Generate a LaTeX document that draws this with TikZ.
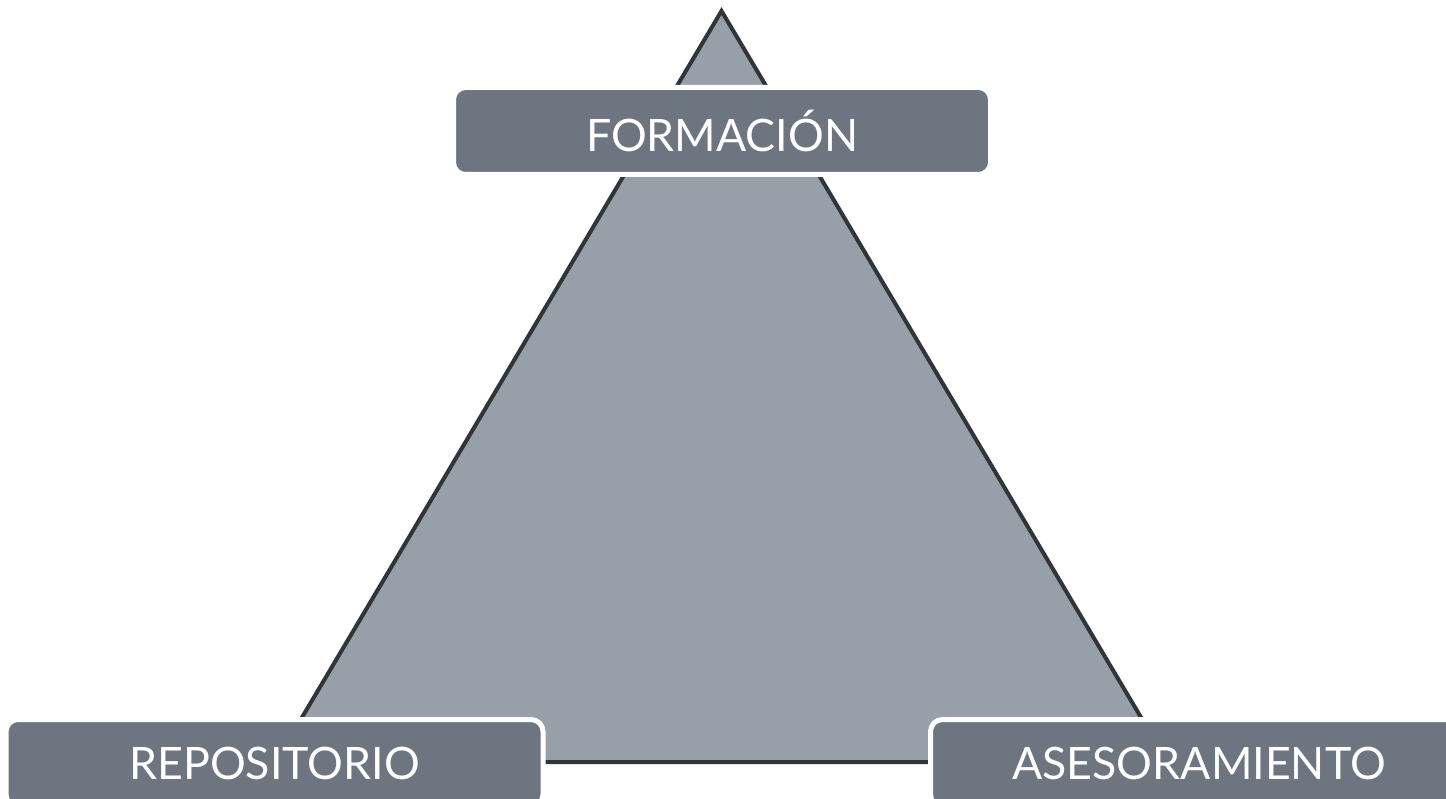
\documentclass[tikz,border=0pt]{standalone}
\usepackage{fontspec}
\setmainfont{Lato}
\definecolor{trifill}{HTML}{979FA8}
\definecolor{triline}{HTML}{2F3539}
\definecolor{boxfill}{HTML}{6D7680}
\begin{document}
\begin{tikzpicture}[x=1pt,y=-1pt,
  labelbox/.style={fill=boxfill, draw=white, line width=5pt, rounded corners=12pt,
    minimum width=537pt, minimum height=87pt, inner sep=0pt,
    text=white, font=\fontsize{44.7}{50}\selectfont}]
\useasboundingbox (0,0) rectangle (1446,799);
\clip (0,0) rectangle (1446,799);
\fill[white] (0,0) rectangle (1446,799);
\draw[fill=trifill, draw=triline, line width=4pt]
  (721.5,11) -- (1167.5,762) -- (275.5,762) -- cycle;
\node[labelbox] (formacion) at (722,131) {FORMACIÓN};
\node[labelbox] (repositorio) at (274.5,763) {REPOSITORIO};
\node[labelbox] (asesoramiento) at (1199,763) {ASESORAMIENTO};
\end{tikzpicture}
\end{document}
